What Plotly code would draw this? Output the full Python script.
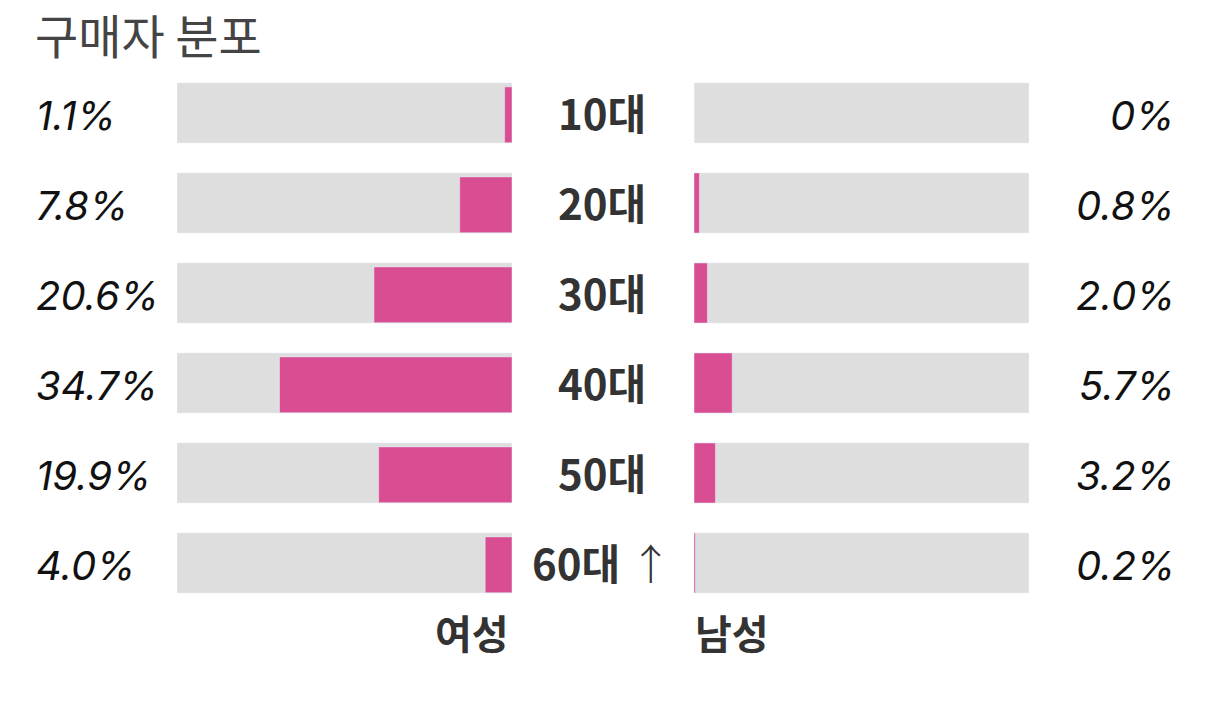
import plotly.graph_objects as go

# 구매자 분포 - 연령대별 / 성별
ages = ["10대", "20대", "30대", "40대", "50대", "60대 ↑"]
female = [1.1, 7.8, 20.6, 34.7, 19.9, 4.0]
male = [0, 0.8, 2.0, 5.7, 3.2, 0.2]
female_labels = ["1.1%", "7.8%", "20.6%", "34.7%", "19.9%", "4.0%"]
male_labels = ["0%", "0.8%", "2.0%", "5.7%", "3.2%", "0.2%"]
full_scale = [50] * len(ages)

W, H = 1206, 701
PINK = "#d94d93"
GRAY = "#dedede"
KR = "Noto Sans CJK KR"


def px(x):
    return x / W


def py(y):
    return 1 - y / H


idx = list(range(len(ages)))

fig = go.Figure()
# 여성 (왼쪽, 오른쪽 기준으로 자라는 막대)
fig.add_trace(go.Bar(x=full_scale, y=idx, orientation="h", marker_color=GRAY,
                     width=0.667, xaxis="x", yaxis="y", hoverinfo="skip"))
fig.add_trace(go.Bar(x=female, y=idx, orientation="h", marker_color=PINK,
                     width=0.62, offset=-0.29, xaxis="x", yaxis="y", name="여성"))
# 남성 (오른쪽)
fig.add_trace(go.Bar(x=full_scale, y=idx, orientation="h", marker_color=GRAY,
                     width=0.667, xaxis="x2", yaxis="y", hoverinfo="skip"))
fig.add_trace(go.Bar(x=male, y=idx, orientation="h", marker_color=PINK,
                     width=0.667, xaxis="x2", yaxis="y", name="남성"))

# y축: 한 칸 = 90px, 첫 행 중심 113px
top = -113 / 90
bottom = (H - 113) / 90

fig.update_layout(
    width=W, height=H,
    margin=dict(l=0, r=0, t=0, b=0),
    paper_bgcolor="white", plot_bgcolor="white",
    barmode="overlay", showlegend=False,
    xaxis=dict(domain=[px(177), px(512)], range=[50, 0], visible=False, fixedrange=True),
    xaxis2=dict(domain=[px(694), px(1029)], range=[0, 50], visible=False, fixedrange=True),
    yaxis=dict(range=[bottom, top], visible=False, fixedrange=True),
)

ann = []
ann.append(dict(text="구매자 분포", x=px(33), y=py(34), xref="paper", yref="paper",
                xanchor="left", yanchor="middle", showarrow=False,
                font=dict(family=KR, size=47, color="#444444")))
for i in idx:
    ann.append(dict(text="<i>" + female_labels[i] + "</i>", x=px(34), y=i + 0.03,
                    xref="paper", yref="y", xanchor="left", yanchor="middle",
                    showarrow=False, font=dict(family="Inter", size=40, color="#111111")))
    ann.append(dict(text="<i>" + male_labels[i] + "</i>", x=px(1177), y=i + 0.03,
                    xref="paper", yref="y", xanchor="right", yanchor="middle",
                    showarrow=False, font=dict(family="Inter", size=40, color="#111111")))
    label = ages[i]
    if label.endswith("↑"):
        label = "<b>" + label[:-2] + "</b> <span style='font-weight:300'>↑</span>"
    else:
        label = "<b>" + label + "</b>"
    ann.append(dict(text=label, x=px(602), y=i - 0.02, xref="paper", yref="y",
                    xanchor="center", yanchor="middle", showarrow=False,
                    font=dict(family=KR, size=42, color="#333333")))
ann.append(dict(text="<b>여성</b>", x=px(511), y=py(632), xref="paper", yref="paper",
                xanchor="right", yanchor="middle", showarrow=False,
                font=dict(family=KR, size=40, color="#333333")))
ann.append(dict(text="<b>남성</b>", x=px(693), y=py(632), xref="paper", yref="paper",
                xanchor="left", yanchor="middle", showarrow=False,
                font=dict(family=KR, size=40, color="#333333")))
fig.update_layout(annotations=ann)

# 페이지 기본 여백(8px) 제거, 툴바 숨김
fig.write_html("out.html", config={"displayModeBar": False},
               post_script="document.body.style.margin='0';")
